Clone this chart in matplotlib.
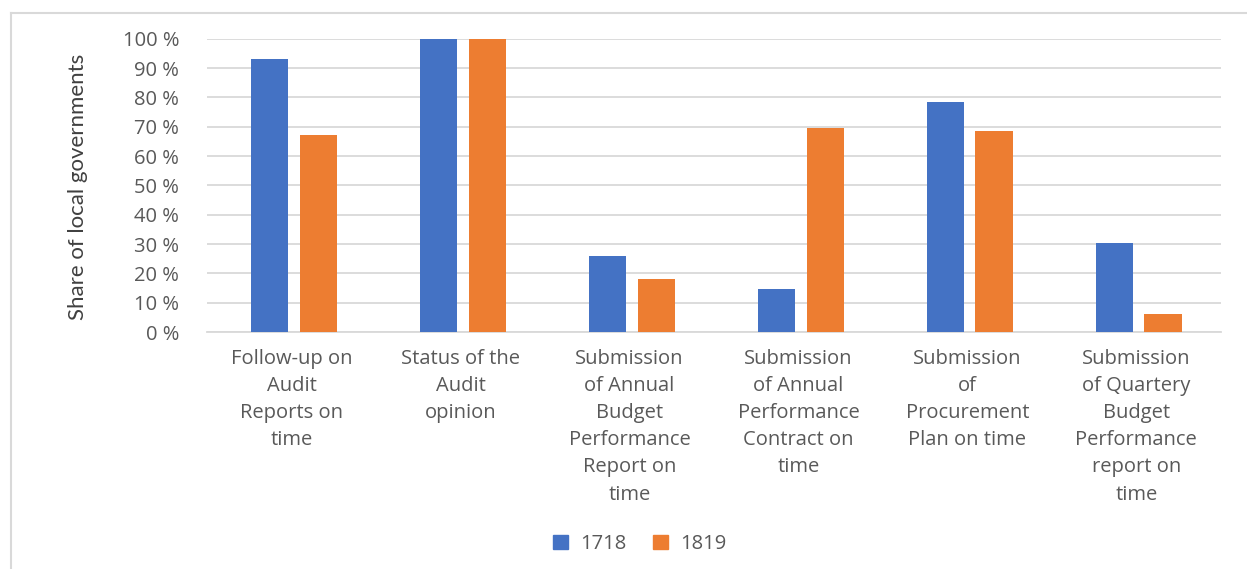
import numpy as np
import matplotlib.pyplot as plt
from matplotlib.patches import Patch
from matplotlib.lines import Line2D

categories = ["Follow-up on\nAudit\nReports on\ntime",
              "Status of the\nAudit\nopinion",
              "Submission\nof Annual\nBudget\nPerformance\nReport on\ntime",
              "Submission\nof Annual\nPerformance\nContract on\ntime",
              "Submission\nof\nProcurement\nPlan on time",
              "Submission\nof Quartery\nBudget\nPerformance\nreport on\ntime"]
vals_1718 = [93, 100, 26, 14.5, 78.5, 30.5]
vals_1819 = [67, 100, 18, 69.5, 68.5, 6]
series_names = ["1718", "1819"]
yticks = [0, 10, 20, 30, 40, 50, 60, 70, 80, 90, 100]

blue = '#4472C4'
orange = '#ED7D31'
grid_c = '#d9d9d9'
txt_c = '#595959'

plt.rcParams['font.family'] = ['Open Sans', 'DejaVu Sans']

fig = plt.figure(figsize=(12.47, 5.69), dpi=100)
ax = fig.add_axes([0.166, 0.4165, 0.813, 0.5155])

x = np.arange(len(categories))
w = 0.22
off = 0.143
ax.bar(x - off + 0.015, vals_1718, w, color=blue, zorder=3)
ax.bar(x + off + 0.015, vals_1819, w, color=orange, zorder=3)

ax.set_xlim(-0.5, len(categories) - 0.5)
ax.set_ylim(0, 100)
ax.set_yticks(yticks)
ax.set_yticklabels([f"{t} %" for t in yticks], color=txt_c, fontsize=14.5)
ax.set_xticks(x)
ax.set_xticklabels(categories, color=txt_c, fontsize=14.5, linespacing=1.48, va='top')
ax.tick_params(axis='y', length=0, pad=20)
ax.tick_params(axis='x', length=0, pad=12)
ax.yaxis.grid(True, color=grid_c, linewidth=1.3, zorder=0)
for s in ['top', 'right', 'left']:
    ax.spines[s].set_visible(False)
ax.spines['bottom'].set_color(grid_c)
ax.spines['bottom'].set_linewidth(1.3)
ax.set_ylabel("Share of local governments", family=['Lato', 'DejaVu Sans'], fontsize=16,
              color='#404040')
ax.yaxis.set_label_coords(-0.117, 0.495)

handles = [Patch(color=blue), Patch(color=orange)]
fig.legend(handles, series_names, loc='center', bbox_to_anchor=(0.513, 0.044), ncol=2,
           frameon=False, fontsize=14.5, labelcolor=txt_c, handlelength=0.75, handleheight=0.75,
           columnspacing=1.3, handletextpad=0.6)

# outer chart border (only top and left visible)
fig.add_artist(Line2D([11 / 1247, 11 / 1247], [0, 1 - 12.5 / 569], color=grid_c, lw=1.5,
                      transform=fig.transFigure))
fig.add_artist(Line2D([11 / 1247, 1], [1 - 12.5 / 569, 1 - 12.5 / 569], color=grid_c, lw=1.5,
                      transform=fig.transFigure))

fig.savefig('out.png', dpi=100)
